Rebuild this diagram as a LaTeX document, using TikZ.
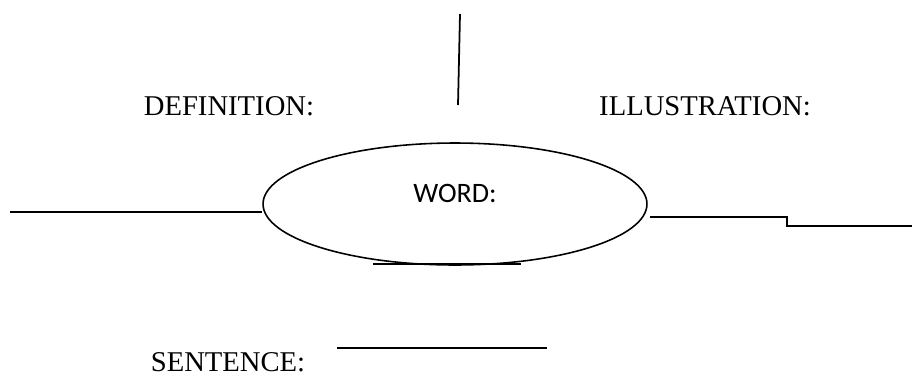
\documentclass[tikz,border=0pt]{standalone}
\usepackage{fontspec}
\setmainfont{Liberation Serif}
\newfontfamily\wordfont{Carlito}
\usetikzlibrary{shapes.geometric}

\tikzset{
  blank/.style={line width=1pt},
  heading/.style={anchor=base, inner sep=0pt, font=\fontsize{16.3}{19}\selectfont},
}

\begin{document}
\begin{tikzpicture}[x=0.02cm, y=-0.02cm]
    \useasboundingbox (0,0) rectangle (912,376);

    % the word in the middle
    \node[ellipse, draw, line width=0.9pt, minimum width=7.68cm, minimum height=2.44cm, inner sep=0pt] (word) at (455,204) {};
    \node[anchor=base, inner sep=0pt, font=\wordfont\fontsize{16}{19}\selectfont] (wordtext) at (455,202) {WORD:};

    \node[heading] (definition) at (229,115) {DEFINITION:};
    \node[heading] (illustration) at (705,115) {ILLUSTRATION:};
    \node[heading] (sentence) at (228,371) {SENTENCE:};

    % blanks
    \coordinate (lend) at (10,212);
    \draw[blank] (lend) -- (word.west |- lend);

    \coordinate (rstart) at (650,217);
    \coordinate (rstep) at (787,217);
    \coordinate (rend) at (912,226);
    \draw[blank] (rstart) -- (rstep) -- (rstep |- rend) -- (rend);

    \coordinate (vtop) at (460,14);
    \coordinate (vbot) at (458,105);
    \draw[blank] (vtop) -- (vbot);

    \coordinate (ua) at (373,264);
    \coordinate (ub) at (521,264);
    \draw[blank] (ua) -- (ub);

    \coordinate (sa) at (337,348);
    \coordinate (sb) at (547,348);
    \draw[blank] (sa) -- (sb);
\end{tikzpicture}
\end{document}
